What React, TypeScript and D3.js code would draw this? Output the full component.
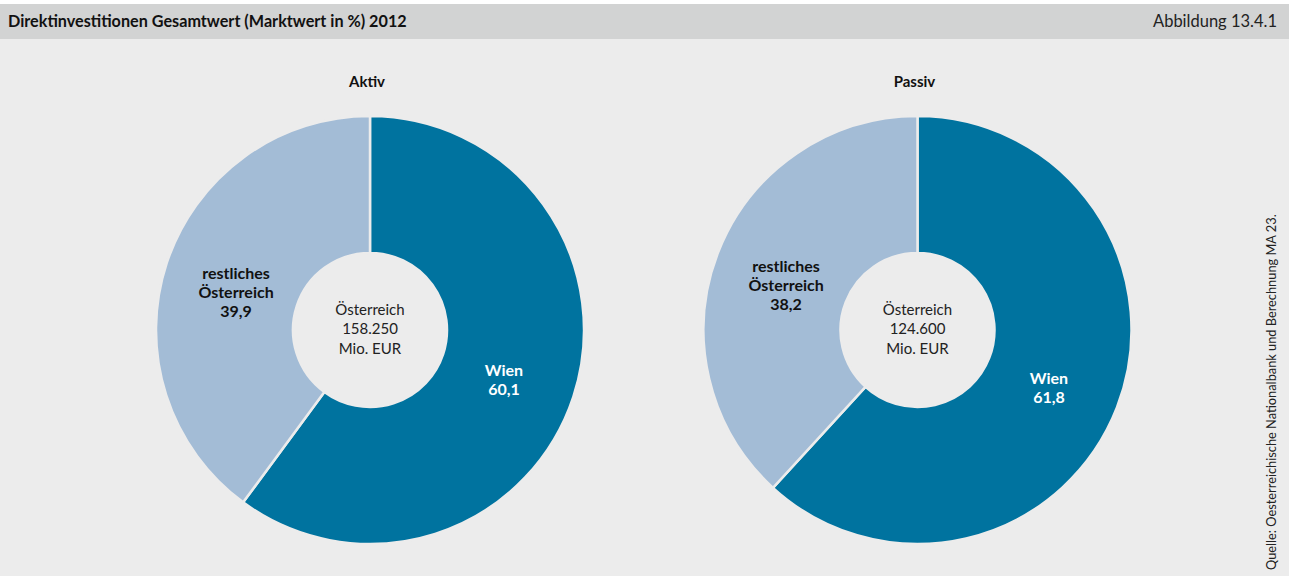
import * as d3 from "d3"

const title = "Direktinvestitionen Gesamtwert (Marktwert in %) 2012"
const figureNo = "Abbildung 13.4.1"
const source = "Quelle: Oesterreichische Nationalbank und Berechnung MA 23."

const charts = ["Aktiv", "Passiv"]
const categories = ["Wien", "restliches Österreich"]
const aktivValues = [60.1, 39.9]
const passivValues = [61.8, 38.2]
const totals = ["158.250", "124.600"]

const W = 1289
const H = 576
const font = "Lato, 'Open Sans', sans-serif"
const colors = ["#00739f", "#a3bcd6"]

interface DonutProps {
  name: string;
  values: number[];
  total: string;
  cx: number;
  cy: number;
}

const fmt = (v: number) => d3.format(".1f")(v).replace(".", ",")

const Donut: React.FC<DonutProps> = ({ name, values, total, cx, cy }) => {
  const outer = 214
  const inner = 77
  const pie = d3.pie<number>().sort(null).value((d) => d)
  const arcs = pie(values)
  const arcGen = d3.arc<d3.PieArcDatum<number>>().innerRadius(inner).outerRadius(outer)
  const labelArc = d3.arc<d3.PieArcDatum<number>>().innerRadius(141).outerRadius(141)

  return (
    <g transform={`translate(${cx},${cy})`}>
      <text x={-3} y={-243} textAnchor="middle" fontWeight="bold" fontSize={15} fill="#111">{name}</text>
      {arcs.map((a, i) => (
        <path key={i} d={arcGen(a) || ""} fill={colors[i]} stroke="#ececec" strokeWidth={2.5} />
      ))}
      {arcs.map((a, i) => {
        const [lx, ly] = labelArc.centroid(a)
        const lines = [...categories[i].split(" "), fmt(values[i])]
        const fill = i === 0 ? "#fff" : "#111"
        return (
          <text key={"l" + i} textAnchor="middle" fontWeight="bold" fontSize={16} fill={fill} fontFamily={font}>
            {lines.map((t, j) => (
              <tspan key={j} x={lx} y={ly + (j - (lines.length - 1) / 2) * 19 + 12}>{t}</tspan>
            ))}
          </text>
        )
      })}
      <text textAnchor="middle" fontSize={15} fill="#222" fontFamily={font}>
        {["Österreich", total, "Mio. EUR"].map((t, j) => (
          <tspan key={j} x={0} y={(j - 1) * 19.5 + 4}>{t}</tspan>
        ))}
      </text>
    </g>
  )
}

export default function App() {
  const x = d3.scaleOrdinal<string, number>().domain(charts).range([370, 917.5])
  const valuesByChart = [aktivValues, passivValues]
  return (
    <svg width={W} height={H} style={{ position: "absolute", left: 0, top: 0 }} fontFamily={font}>
      <rect x={0} y={0} width={W} height={H} fill="#fff" />
      <rect x={0} y={4} width={W} height={35} fill="#d2d3d3" />
      <rect x={0} y={39} width={W} height={H - 39} fill="#ececec" />
      <text x={8} y={27} fontWeight="bold" fontSize={16.2} fill="#111">{title}</text>
      <text x={1277} y={27} textAnchor="end" fontSize={16.5} fill="#222">{figureNo}</text>
      {charts.map((c, i) => (
        <Donut key={c} name={c} values={valuesByChart[i]} total={totals[i]} cx={x(c)} cy={330} />
      ))}
      <text transform="translate(1276,570) rotate(-90)" fontSize={12.8} fill="#222">{source}</text>
    </svg>
  )
}
